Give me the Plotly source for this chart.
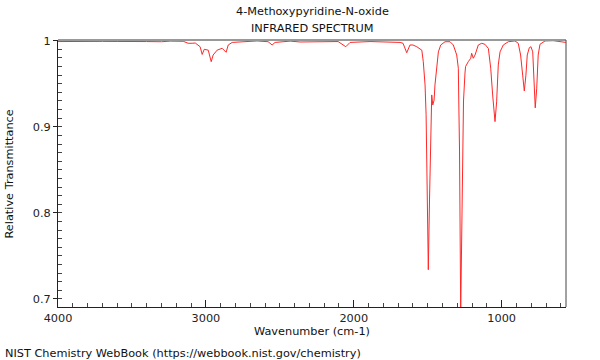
import plotly.graph_objects as go

# Spectrum data
wavenumber = [4000, 3900, 3800, 3700, 3600, 3500, 3400, 3300, 3241, 3153, 3120, 3093, 3072,
              3039, 3025, 3011, 2984, 2964, 2951, 2924, 2890, 2863, 2849, 2822, 2748, 2653,
              2579, 2552, 2532, 2430, 2363, 2228, 2106, 2054, 2025, 1890, 1788, 1687, 1667,
              1660, 1642, 1620, 1600, 1574, 1552, 1540, 1530, 1518, 1511, 1505, 1496, 1488,
              1481, 1473, 1466, 1457, 1451, 1439, 1428, 1412, 1383, 1349, 1327, 1304, 1293,
              1290, 1285, 1277, 1268, 1262, 1258, 1248, 1244, 1226, 1209, 1203, 1192, 1180,
              1169, 1158, 1135, 1113, 1090, 1074, 1061, 1045, 1034, 1023, 1011, 989, 955,
              910, 888, 872, 858, 847, 836, 827, 813, 802, 790, 782, 773, 763, 753, 741,
              707, 651, 595, 566]
transmittance = [0.999, 0.9993, 0.999, 0.9992, 0.9991, 0.9993, 0.999, 0.9988, 0.9995, 0.9993,
                 0.997, 0.997, 0.9973, 0.993, 0.984, 0.990, 0.989, 0.9756, 0.9834, 0.989,
                 0.9912, 0.9865, 0.995, 0.998, 0.9985, 0.9997, 0.9988, 0.995, 0.998, 0.9995,
                 0.9985, 0.9992, 0.999, 0.993, 0.998, 0.999, 0.9985, 0.998, 0.997, 0.994,
                 0.986, 0.995, 0.995, 0.993, 0.991, 0.989, 0.9756, 0.9486, 0.914, 0.815,
                 0.734, 0.815, 0.896, 0.937, 0.9254, 0.931, 0.9486, 0.9718, 0.987, 0.995,
                 0.9988, 0.9988, 0.995, 0.9834, 0.968, 0.93, 0.873, 0.686, 0.80, 0.873,
                 0.93, 0.9625, 0.970, 0.9756, 0.9796, 0.9854, 0.9796, 0.9834, 0.989, 0.995,
                 0.997, 0.9958, 0.991, 0.968, 0.937, 0.906, 0.929, 0.9718, 0.987, 0.995,
                 0.9988, 0.9997, 0.997, 0.9834, 0.960, 0.9416, 0.960, 0.9834, 0.9919, 0.993,
                 0.987, 0.960, 0.922, 0.9448, 0.9834, 0.9958, 0.9997, 1.0, 0.9988, 0.998]

x_tickvals = [4000, 3000, 2000, 1000]
x_ticktext = ["4000", "3000", "2000", "1000"]
y_tickvals = [0.7, 0.8, 0.9, 1.0]
y_ticktext = ["0.7", "0.8", "0.9", "1"]

title_line1 = "4-Methoxypyridine-N-oxide"
title_line2 = "INFRARED SPECTRUM"
x_title = "Wavenumber (cm-1)"
y_title = "Relative Transmittance"
credit = "NIST Chemistry WebBook (https://webbook.nist.gov/chemistry)"

FONT = "DejaVu Sans"
FS = 11.3

fig = go.Figure()
fig.add_trace(go.Scatter(x=wavenumber, y=transmittance, mode="lines",
                         line=dict(color="rgb(255,40,40)", width=1), hoverinfo="skip"))

fig.update_layout(
    width=600, height=360,
    margin=dict(l=58, r=34, t=40, b=53, autoexpand=False),
    paper_bgcolor="white", plot_bgcolor="white",
    showlegend=False,
    font=dict(family=FONT, size=FS, color="#222"),
)

fig.update_xaxes(
    range=[4000, 565], showgrid=False, zeroline=False,
    showline=True, linecolor="#222", linewidth=1,
    tickvals=x_tickvals, ticktext=x_ticktext,
    ticks="inside", ticklen=7, tickcolor="#222", tickwidth=1,
    minor=dict(dtick=100, tick0=0, ticks="inside", ticklen=4, tickcolor="#444", tickwidth=1),
)
fig.update_yaxes(
    range=[0.6907, 1.0008], showgrid=False, zeroline=False,
    showline=True, linecolor="#222", linewidth=1,
    tickvals=y_tickvals, ticktext=y_ticktext,
    ticks="outside", ticklen=4, tickcolor="#222", tickwidth=1,
    minor=dict(dtick=0.01, tick0=0.7, ticks="inside", ticklen=4, tickcolor="#444", tickwidth=1),
)

# frame: gray top, dark right
fig.add_shape(type="line", xref="paper", yref="paper", x0=0, x1=1, y0=1, y1=1,
              line=dict(color="#999", width=2))
fig.add_shape(type="line", xref="paper", yref="paper", x0=1, x1=1, y0=0, y1=1,
              line=dict(color="#444", width=1))

ann = [
    dict(text=title_line1, x=0.5, y=1.1049, xanchor="center", yanchor="middle"),
    dict(text=title_line2, x=0.5, y=1.0412, xanchor="center", yanchor="middle"),
    dict(text=x_title, x=0.5, y=-0.0936, xanchor="center", yanchor="middle"),
    dict(text=credit, x=-0.1083, y=-0.1723, xanchor="left", yanchor="middle"),
    dict(text=y_title, x=-0.0945, y=0.5, xanchor="center", yanchor="middle", textangle=-90),
]
for a in ann:
    fig.add_annotation(xref="paper", yref="paper", showarrow=False,
                       font=dict(family=FONT, size=FS, color="#111"), **a)

fig.write_html("out.html", config={"displayModeBar": False},
               post_script="document.body.style.margin='0px';document.body.style.overflow='hidden';")
